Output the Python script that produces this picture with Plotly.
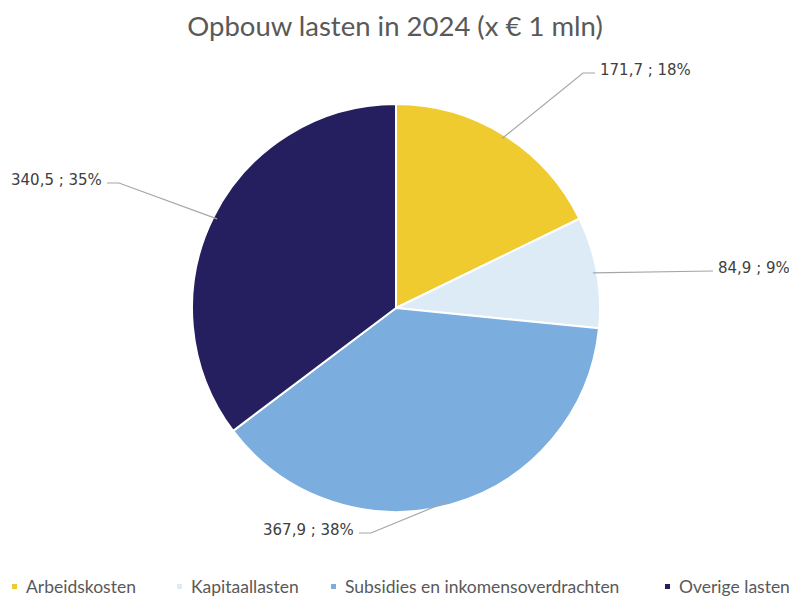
import math
import plotly.graph_objects as go

categories = ["Arbeidskosten", "Kapitaallasten", "Subsidies en inkomensoverdrachten", "Overige lasten"]
values = [171.7, 84.9, 367.9, 340.5]
colors = ["#EFCB2F", "#DDEBF7", "#7BAEDE", "#261F5F"]

W, H = 797, 596
OFF = 8  # default page body margin in the browser
FW, FH = W - OFF, H - OFF


def px(x):
    return (x - OFF) / FW


def py(y):
    return 1 - (y - OFF) / FH


cx, cy, R = 396, 308, 204

fig = go.Figure()
fig.add_trace(go.Pie(
    labels=categories, values=values, sort=False, direction="clockwise", rotation=0,
    marker=dict(colors=colors, line=dict(color="white", width=2)),
    textinfo="none", hoverinfo="label+value+percent", showlegend=False,
    domain=dict(x=[px(cx - R), px(cx + R)], y=[py(cy + R), py(cy - R)]),
))

# label placement: (text x, text y, xanchor, elbow length) in pixels (style only)
label_pos = [
    (598, 70, "left", 12),
    (716, 268, "left", 0),
    (356, 530, "right", 12),
    (104, 180, "right", 12),
]

total = sum(values)
cum = 0
shapes = []
annotations = []
for v, (tx, ty, anc, el) in zip(values, label_pos):
    mid = (cum + v / 2) / total * 2 * math.pi
    cum += v
    ex = cx + R * 0.98 * math.sin(mid)
    ey = cy - R * 0.98 * math.cos(mid)
    pct = round(v / total * 100)
    txt = f"{v:.1f}".replace(".", ",") + f" ; {pct}%"
    if anc == "left":
        bx = tx - 3
        kx = bx - el
    else:
        bx = tx + 3
        kx = bx + el
    by = ty + 3
    path = f"M {px(ex)} {py(ey)} L {px(kx)} {py(by)} L {px(bx)} {py(by)}"
    shapes.append(dict(type="path", path=path, xref="paper", yref="paper",
                       line=dict(color="#A6A6A6", width=1.2)))
    annotations.append(dict(x=px(tx), y=py(ty), xref="paper", yref="paper",
                            text=txt, showarrow=False, xanchor=anc, yanchor="middle",
                            font=dict(family="DejaVu Sans", size=15, color="#404040")))

# custom legend (small square markers like the original)
legend_x = [12, 177, 331, 665]
legend_y = 586
for name, col, lx in zip(categories, colors, legend_x):
    shapes.append(dict(type="rect", xref="paper", yref="paper",
                       x0=px(lx), x1=px(lx + 5),
                       y0=py(legend_y + 3), y1=py(legend_y - 2),
                       fillcolor=col, line=dict(width=0)))
    annotations.append(dict(x=px(lx + 12), y=py(legend_y), xref="paper", yref="paper",
                            text=name, showarrow=False, xanchor="left", yanchor="middle",
                            font=dict(family="Lato", size=17.5, color="#595959")))

fig.update_layout(
    width=FW, height=FH,
    margin=dict(l=0, r=0, t=0, b=0, autoexpand=False),
    paper_bgcolor="white", plot_bgcolor="white",
    title=dict(text="Opbouw lasten in 2024 (x € 1 mln)", x=px(395), xanchor="center",
               y=py(26.5), yanchor="middle",
               font=dict(family="Lato", size=27.5, color="#595959")),
    shapes=shapes, annotations=annotations,
    showlegend=False,
)

fig.write_html("out.html")
